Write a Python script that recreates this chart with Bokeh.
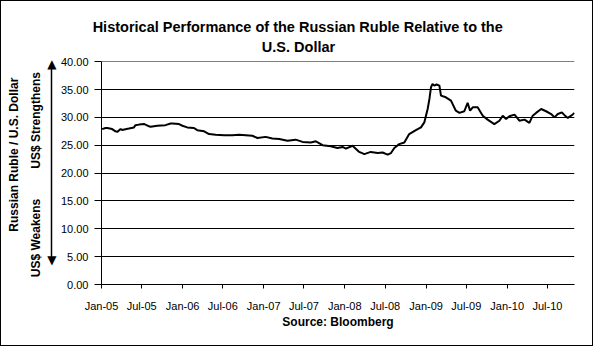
import pandas as pd
from datetime import datetime
from bokeh.plotting import figure
from bokeh.models import (Range1d, FixedTicker, DatetimeTickFormatter, CustomJSTickFormatter,
                          LinearAxis, ColumnDataSource)
from bokeh.embed import file_html
from bokeh.resources import INLINE

dates = [
    "2005-01-04", "2005-01-19", "2005-01-27", "2005-02-18", "2005-03-05", "2005-03-13",
    "2005-03-28", "2005-04-04", "2005-05-04", "2005-05-27", "2005-06-03", "2005-06-19",
    "2005-07-11", "2005-07-18", "2005-08-03", "2005-08-10", "2005-09-09", "2005-10-16",
    "2005-11-08", "2005-11-16", "2005-12-16", "2005-12-31", "2006-01-22", "2006-02-21",
    "2006-03-08", "2006-04-08", "2006-04-30", "2006-05-30", "2006-07-07", "2006-08-13",
    "2006-09-12", "2006-10-12", "2006-11-11", "2006-12-04", "2007-01-10", "2007-02-09",
    "2007-03-12", "2007-04-18", "2007-05-25", "2007-06-25", "2007-08-01", "2007-08-24",
    "2007-09-23", "2007-10-30", "2007-11-29", "2007-12-22", "2008-01-06", "2008-02-05",
    "2008-03-06", "2008-03-29", "2008-04-27", "2008-05-28", "2008-06-19", "2008-07-12",
    "2008-07-27", "2008-08-11", "2008-09-02", "2008-09-25", "2008-10-17", "2008-11-16",
    "2008-12-09", "2008-12-24", "2009-01-08", "2009-01-16", "2009-01-23", "2009-01-30",
    "2009-02-07", "2009-02-17", "2009-03-02", "2009-03-09", "2009-03-31", "2009-04-23",
    "2009-05-15", "2009-05-31", "2009-06-22", "2009-07-07", "2009-07-18", "2009-07-30",
    "2009-08-21", "2009-09-13", "2009-10-05", "2009-11-04", "2009-11-27", "2009-12-12",
    "2009-12-27", "2010-01-11", "2010-02-03", "2010-02-25", "2010-03-20", "2010-04-11",
    "2010-04-26", "2010-05-11", "2010-06-03", "2010-06-25", "2010-07-18", "2010-08-02",
    "2010-08-17", "2010-09-04", "2010-09-16", "2010-10-01", "2010-10-16", "2010-10-31",
]
rub_per_usd = [
    27.9, 28.1, 28.1, 27.9, 27.5, 27.4,
    27.9, 27.75, 28.0, 28.2, 28.6, 28.7,
    28.8, 28.7, 28.4, 28.3, 28.5, 28.6,
    28.9, 28.9, 28.8, 28.5, 28.2, 28.1,
    27.7, 27.5, 27.0, 26.9, 26.8, 26.8,
    26.9, 26.8, 26.7, 26.3, 26.5, 26.2,
    26.1, 25.8, 26.0, 25.6, 25.5, 25.7,
    25.0, 24.8, 24.5, 24.7, 24.4, 24.9,
    23.8, 23.4, 23.8, 23.6, 23.7, 23.3,
    23.6, 24.5, 25.2, 25.5, 27.0, 27.7,
    28.2, 29.1, 31.5, 33.3, 35.4, 36.0,
    35.7, 35.9, 35.7, 33.9, 33.6, 33.0,
    31.2, 30.8, 31.1, 32.6, 31.2, 31.8,
    31.8, 30.3, 29.6, 28.8, 29.4, 30.3,
    29.7, 30.2, 30.5, 29.4, 29.6, 29.0,
    30.3, 30.8, 31.5, 31.1, 30.6, 30.0,
    30.6, 30.9, 30.4, 29.9, 30.3, 30.8,
]
tick_dates = ["2005-01-01", "2005-07-01", "2006-01-01", "2006-07-01", "2007-01-01",
              "2007-07-01", "2008-01-01", "2008-07-01", "2009-01-01", "2009-07-01",
              "2010-01-01", "2010-07-01"]
y_ticks = [0, 5, 10, 15, 20, 25, 30, 35, 40]

title_lines = ["Historical Performance of the Russian Ruble Relative to the", "U.S. Dollar"]
y_title = "Russian Ruble / U.S. Dollar"
up_text = "US$ Strengthens"
down_text = "US$ Weakens"
source_text = "Source: Bloomberg"

FONT = "Liberation Sans"
NB = "\u00a0"

src = ColumnDataSource(dict(x=pd.to_datetime(dates), y=rub_per_usd))

p = figure(width=593, height=346, output_backend="svg", toolbar_location=None,
           x_axis_type="datetime",
           x_range=Range1d(datetime(2005, 1, 1), datetime(2010, 10, 31)),
           y_range=Range1d(0, 40.03),
           min_border_left=100, min_border_right=20, min_border_top=60, min_border_bottom=63)
p.styles = {"border": "1.5px solid black"}
p.outline_line_color = None
p.background_fill_color = "white"
p.border_fill_color = "white"

p.line("x", "y", source=src, line_color="black", line_width=2)

# two-line title (lines are left-aligned in the block: pad to centre them,
# and shift the block left of the frame centre with trailing spaces)
p.title.text = title_lines[0] + NB * 20 + "\n" + NB * 42 + title_lines[1]
p.title.align = "center"
p.title.vertical_align = "top"
p.title.text_font = FONT
p.title.text_font_size = "14.5px"
p.title.text_font_style = "bold"
p.title.text_color = "black"
p.title.text_line_height = 1.25
p.title.standoff = 10

# axes
p.xgrid.visible = False
p.ygrid.grid_line_color = "black"
p.ygrid.grid_line_width = 1
p.yaxis.ticker = FixedTicker(ticks=y_ticks)
p.ygrid.ticker = FixedTicker(ticks=y_ticks)
p.yaxis.formatter = CustomJSTickFormatter(code="return '\\u00a0\\u00a0' + tick.toFixed(2)")
tick_ms = [pd.Timestamp(d).value // 10**6 for d in tick_dates]
p.xaxis.ticker = FixedTicker(ticks=tick_ms)
fmt = "%b-%y"
p.xaxis.formatter = DatetimeTickFormatter(milliseconds=fmt, seconds=fmt, minsec=fmt, minutes=fmt,
                                          hourmin=fmt, hours=fmt, days=fmt, months=fmt, years=fmt)
for ax in (p.xaxis, p.yaxis):
    ax.axis_line_color = "black"
    ax.major_tick_line_color = "black"
    ax.minor_tick_line_color = None
    ax.major_label_text_font = FONT
    ax.major_label_text_font_size = "11px"
    ax.major_label_text_color = "black"
p.yaxis.major_tick_out = 7
p.yaxis.major_tick_in = 0
p.yaxis.major_label_standoff = 6
p.xaxis.major_tick_out = 4
p.xaxis.major_tick_in = 0
p.xaxis.major_label_standoff = 11
p.xaxis.axis_label = source_text
p.xaxis.axis_label_standoff = 0
p.xaxis.axis_label_text_font = FONT
p.xaxis.axis_label_text_font_size = "12px"
p.xaxis.axis_label_text_font_style = "bold"
p.xaxis.axis_label_text_color = "black"

# arrow axis: its line is the arrow body, its two tick labels are the heads,
# its axis label carries "US$ Weakens ... US$ Strengthens"
arrow_ax = LinearAxis(ticker=FixedTicker(ticks=[4.4, 39.6]), bounds=(4.4, 39.6),
                      formatter=CustomJSTickFormatter(code="return tick > 20 ? '\u25b2' : '\u25bc'"),
                      axis_line_color="black", axis_line_width=1.5,
                      major_tick_line_color=None, minor_tick_line_color=None,
                      major_tick_out=0, major_tick_in=0, major_label_standoff=-5,
                      major_label_text_font="DejaVu Sans", major_label_text_font_size="12px",
                      major_label_text_color="black",
                      axis_label=NB + down_text + NB * 9 + up_text + NB * 2,
                      axis_label_standoff=1, axis_label_text_font=FONT,
                      axis_label_text_font_size="12px", axis_label_text_font_style="bold",
                      axis_label_text_color="black")
p.add_layout(arrow_ax, "left")

ruble_ax = LinearAxis(ticker=FixedTicker(ticks=[]),
                      axis_line_color=None, major_tick_line_color=None,
                      minor_tick_line_color=None, major_tick_out=0, major_tick_in=0,
                      axis_label=NB * 11 + y_title, axis_label_standoff=6,
                      axis_label_text_font=FONT,
                      axis_label_text_font_size="12px", axis_label_text_font_style="bold",
                      axis_label_text_color="black")
p.add_layout(ruble_ax, "left")

open("out.html", "w").write(file_html(p, INLINE))
